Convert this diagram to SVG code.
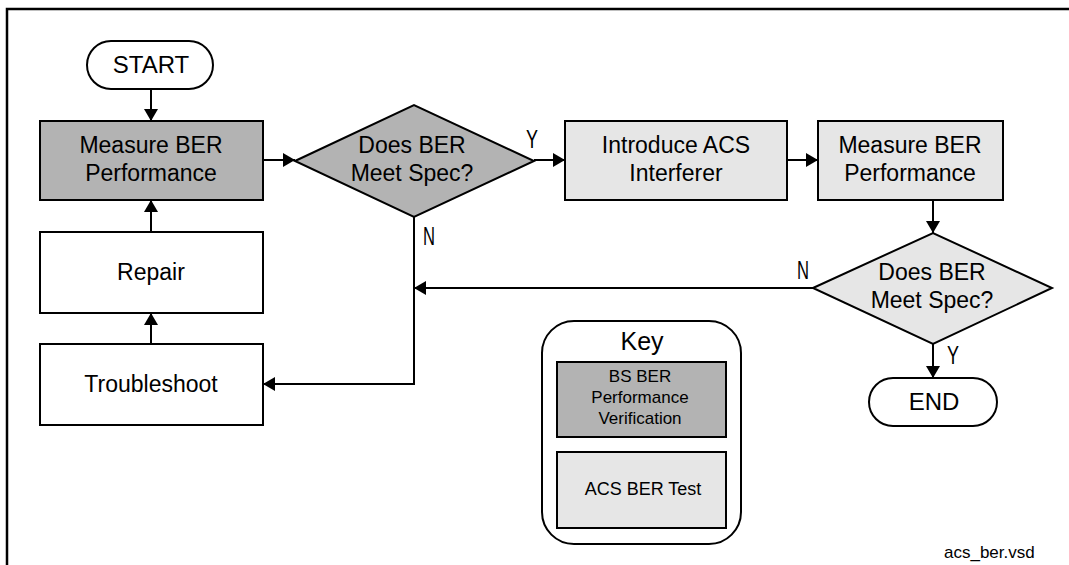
<svg xmlns="http://www.w3.org/2000/svg" width="1069" height="565" viewBox="0 0 1069 565">
<style>
.frame{fill:none;stroke:#000;stroke-width:2.5}
.box{stroke:#000;stroke-width:2}
.dark{fill:#b3b3b3}
.light{fill:#e6e6e6}
.white{fill:#fff}
.t{font-family:"Liberation Sans",Arial,sans-serif;font-size:23px;fill:#000;text-anchor:middle}
.s{font-family:"Liberation Sans",Arial,sans-serif;font-size:17px;fill:#000;text-anchor:middle}
.lbl{font-family:"Liberation Sans",Arial,sans-serif;font-size:26px;fill:#000}
.conn{fill:none;stroke:#000;stroke-width:2;marker-end:url(#arr)}
</style>
<defs>
<marker id="arr" markerUnits="userSpaceOnUse" markerWidth="13" markerHeight="14" refX="12" refY="7" orient="auto">
<path d="M0,0 L12,7 L0,14 z" fill="#000"/>
</marker>
</defs>
<rect width="1069" height="565" fill="#fff"/>
<path class="frame" d="M7,565 V9 H1069"/>

<g id="connectors">
<path class="conn" d="M151,89 V121"/>
<path class="conn" d="M263,160 H295"/>
<path class="conn" d="M534,160 H565"/>
<path class="conn" d="M787,160 H818"/>
<path class="conn" d="M933,200 V233"/>
<path class="conn" d="M933,344 V378"/>
<path class="conn" d="M813,288 H414"/>
<path class="conn" d="M414,217 V384 H263"/>
<path class="conn" d="M151,344 V313"/>
<path class="conn" d="M151,232 V200"/>
<text class="lbl" x="526" y="148" textLength="12" lengthAdjust="spacingAndGlyphs">Y</text>
<text class="lbl" x="423" y="245" textLength="12" lengthAdjust="spacingAndGlyphs">N</text>
<text class="lbl" x="797" y="279" textLength="12" lengthAdjust="spacingAndGlyphs">N</text>
<text class="lbl" x="947" y="364" textLength="12" lengthAdjust="spacingAndGlyphs">Y</text>
</g>

<g id="start">
<rect class="box white" x="87" y="41" width="126" height="48" rx="24" ry="24"/>
<text class="t" x="151" y="73" style="font-size:24px">START</text>
</g>

<g id="measure1">
<rect class="box dark" x="40" y="121" width="223" height="79"/>
<text class="t" x="151" y="153">Measure BER</text>
<text class="t" x="151" y="181">Performance</text>
</g>

<g id="decision1">
<polygon class="box dark" points="295,161 414,105 534,161 414,217"/>
<text class="t" x="412" y="153">Does BER</text>
<text class="t" x="412" y="181">Meet Spec?</text>
</g>

<g id="introduce">
<rect class="box light" x="565" y="121" width="222" height="79"/>
<text class="t" x="676" y="153">Introduce ACS</text>
<text class="t" x="676" y="181">Interferer</text>
</g>

<g id="measure2">
<rect class="box light" x="818" y="121" width="185" height="79"/>
<text class="t" x="910" y="153">Measure BER</text>
<text class="t" x="910" y="181">Performance</text>
</g>

<g id="decision2">
<polygon class="box light" points="813,288 933,233 1052,288 933,344"/>
<text class="t" x="932" y="280">Does BER</text>
<text class="t" x="932" y="308">Meet Spec?</text>
</g>

<g id="end">
<rect class="box white" x="869" y="378" width="128" height="48" rx="24" ry="24"/>
<text class="t" x="934" y="410" style="font-size:24px">END</text>
</g>

<g id="repair">
<rect class="box white" x="40" y="232" width="223" height="81"/>
<text class="t" x="151" y="280">Repair</text>
</g>

<g id="troubleshoot">
<rect class="box white" x="40" y="344" width="223" height="81"/>
<text class="t" x="151" y="392">Troubleshoot</text>
</g>

<g id="key">
<rect class="box white" x="542" y="321" width="199" height="223" rx="32" ry="32"/>
<text class="t" x="642" y="350" style="font-size:25px">Key</text>
<rect class="box dark" x="557" y="362" width="169" height="75"/>
<text class="s" x="640" y="382">BS BER</text>
<text class="s" x="640" y="403">Performance</text>
<text class="s" x="640" y="424">Verification</text>
<rect class="box light" x="557" y="452" width="169" height="76"/>
<text class="s" x="643" y="495" style="font-size:18px">ACS BER Test</text>
</g>

<text class="s" x="944" y="558" style="text-anchor:start">acs_ber.vsd</text>
</svg>
